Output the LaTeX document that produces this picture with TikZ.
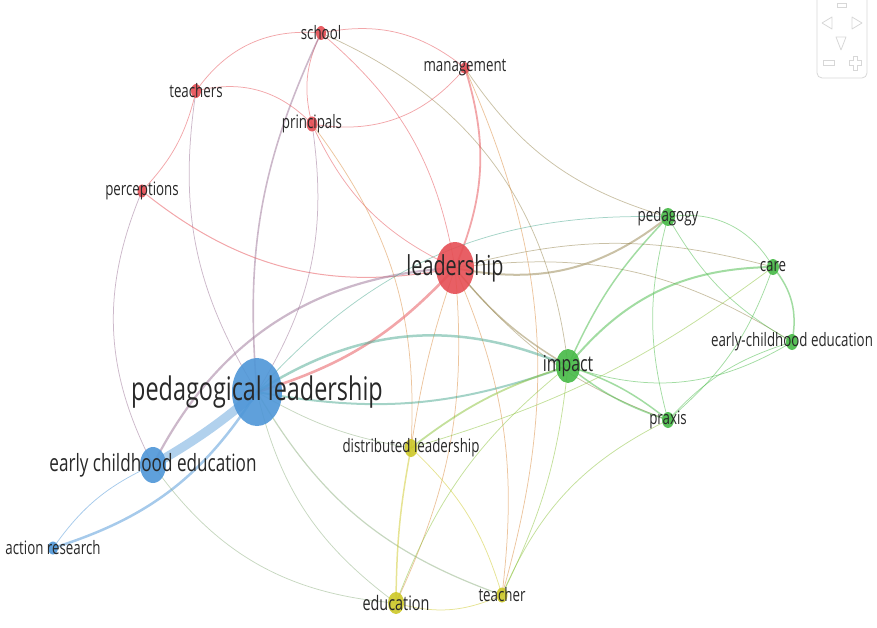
\documentclass[tikz,border=0pt]{standalone}
\usepackage{fontspec}
\setmainfont{Open Sans}[FakeStretch=0.72]
\usetikzlibrary{shapes.geometric}
\definecolor{cred}{RGB}{229,78,84}
\definecolor{cblue}{RGB}{78,150,215}
\definecolor{cgreen}{RGB}{70,185,70}
\definecolor{cyellow}{RGB}{205,200,40}
\definecolor{txt}{RGB}{40,40,40}
\definecolor{wgray}{RGB}{215,215,215}
\tikzset{
  e/.style={line width=0.75pt, opacity=0.5},
  kw/.style={ellipse, inner sep=0pt, draw=none, fill opacity=0.9},
  lab/.style={inner sep=0pt, text=txt},
  small/.style={lab, font=\fontsize{18.5}{19}\selectfont},
  wid/.style={draw=wgray, line width=0.8pt}
}
\begin{document}
\begin{tikzpicture}[x=1pt,y=1pt]
\useasboundingbox (0,0) rectangle (877,-628);
% keyword positions
\coordinate (school) at (321,-33);
\coordinate (management) at (465,-68);
\coordinate (teachers) at (196,-91);
\coordinate (principals) at (312,-124);
\coordinate (perceptions) at (142,-191);
\coordinate (leadership) at (455,-268);
\coordinate (pedl) at (257,-392);
\coordinate (ece) at (153,-465);
\coordinate (ar) at (53,-548);
\coordinate (dl) at (411,-448);
\coordinate (education) at (396,-603);
\coordinate (teacher) at (502,-595);
\coordinate (impact) at (568,-366);
\coordinate (praxis) at (668,-420);
\coordinate (ecetwo) at (792,-342);
\coordinate (pedagogy) at (668,-217);
\coordinate (care) at (773,-267);
% red cluster edges
\draw[e,cred] (school) to[bend left=25] (management);
\draw[e,cred] (teachers) to[bend left=30] (school);
\draw[e,cred] (school) to[bend right=20] (principals);
\draw[e,cred!50!cblue,line width=1.6pt] (school) to[bend right=15] (pedl);
\draw[e,cred] (school) to[bend left=20] (leadership);
\draw[e,cred!50!cgreen] (school) to[bend left=30] (impact);
\draw[e,cred] (teachers) to[bend left=30] (principals);
\draw[e,cred] (teachers) to[bend left=15] (perceptions);
\draw[e,cred!50!cblue] (teachers) to[bend right=20] (pedl);
\draw[e,cred,line width=1pt] (perceptions) to[bend right=25] (leadership);
\draw[e,cred!50!cblue] (perceptions) to[bend right=25] (ece);
\draw[e,cred] (principals) to[bend right=30] (management);
\draw[e,cred] (principals) to[bend right=20] (leadership);
\draw[e,cred!50!cblue] (principals) to[bend left=20] (pedl);
\draw[e,cred!50!cyellow] (principals) to[bend left=20] (dl);
\draw[e,cred,line width=1.8pt] (management) to[bend left=20] (leadership);
\draw[e,cred!50!cgreen] (management) to[bend right=20] (pedagogy);
\draw[e,cred!50!cyellow] (management) to[bend left=20] (teacher);
\draw[e,cred!50!cgreen,line width=2pt] (leadership) to[bend right=25] (pedagogy);
\draw[e,cred!50!cgreen] (leadership) to[bend left=15] (care);
\draw[e,cred!50!cgreen] (leadership) to[bend left=20] (ecetwo);
\draw[e,cred!50!cgreen,line width=1.5pt] (leadership) to[bend right=10] (impact);
\draw[e,cred!50!cgreen] (leadership) to[bend right=15] (praxis);
\draw[e,cred!50!cyellow] (leadership) to[bend right=5] (dl);
\draw[e,cred!50!cyellow] (leadership) to[bend left=15] (education);
\draw[e,cred!50!cyellow] (leadership) to[bend left=15] (teacher);
\draw[e,cred,line width=2.6pt] (leadership) to[bend left=15] (pedl);
\draw[e,cred!50!cblue,line width=2.2pt] (ece) to[bend left=30] (leadership);
% blue cluster edges
\draw[e,cblue!80!white,line width=9pt,opacity=0.55] (pedl) to[bend left=5] (ece);
\draw[e,cblue,line width=2.5pt] (pedl) to[bend left=20] (ar);
\draw[e,cblue] (ece) to[bend right=15] (ar);
\draw[e,cblue!50!cgreen,line width=2.5pt] (pedl) to[bend left=28] (impact);
\draw[e,cblue!50!cgreen,line width=2pt] (pedl) to[bend right=15] (impact);
\draw[e,cblue!50!cyellow] (pedl) to[bend right=10] (dl);
\draw[e,cblue!50!cyellow] (pedl) to[bend right=20] (education);
\draw[e,cblue!50!cyellow,line width=1.2pt] (pedl) to[bend right=20] (teacher);
\draw[e,cblue!50!cyellow] (ece) to[bend right=25] (education);
\draw[e,cblue!50!cgreen] (pedl) to[bend left=25] (pedagogy);
% green cluster edges
\draw[e,cgreen] (pedagogy) to[bend left=35] (care);
\draw[e,cgreen,line width=1.5pt] (pedagogy) to[bend right=10] (impact);
\draw[e,cgreen] (pedagogy) to[bend right=15] (praxis);
\draw[e,cgreen] (pedagogy) to[bend right=15] (ecetwo);
\draw[e,cgreen,line width=2pt] (care) to[bend right=25] (impact);
\draw[e,cgreen,line width=1.5pt] (care) to[bend left=25] (ecetwo);
\draw[e,cgreen] (care) to[bend left=15] (praxis);
\draw[e,cgreen,line width=1.5pt] (impact) to[bend left=10] (praxis);
\draw[e,cgreen,line width=1.5pt] (impact) to[bend right=10] (praxis);
\draw[e,cgreen] (impact) to[bend right=25] (ecetwo);
\draw[e,cgreen] (praxis) to[bend left=15] (ecetwo);
\draw[e,cgreen!50!cyellow] (praxis) to[bend right=20] (teacher);
\draw[e,cgreen!50!cyellow] (impact) to[bend left=10] (teacher);
\draw[e,cgreen!50!cyellow,line width=1.8pt] (impact) to[bend right=10] (dl);
\draw[e,cgreen!50!cyellow] (dl) to[bend right=10] (care);
% yellow cluster edges
\draw[e,cgreen!50!cyellow] (education) to[bend left=15] (impact);
\draw[e,cyellow,line width=1.5pt] (dl) to[bend right=5] (education);
\draw[e,cyellow] (dl) to[bend left=15] (teacher);
\draw[e,cyellow] (education) to[bend right=20] (teacher);
% keyword circles
\node[kw,fill=cred,minimum width=10pt,minimum height=14pt] (nschool) at (school) {};
\node[kw,fill=cred,minimum width=9pt,minimum height=12pt] (nmanagement) at (management) {};
\node[kw,fill=cred,minimum width=10pt,minimum height=14pt] (nteachers) at (teachers) {};
\node[kw,fill=cred,minimum width=11pt,minimum height=15pt] (nprincipals) at (principals) {};
\node[kw,fill=cred,minimum width=9pt,minimum height=13pt] (nperceptions) at (perceptions) {};
\node[kw,fill=cred,minimum width=38pt,minimum height=52pt] (nleadership) at (leadership) {};
\node[kw,fill=cblue,minimum width=50pt,minimum height=68pt] (npedl) at (pedl) {};
\node[kw,fill=cblue,minimum width=26pt,minimum height=36pt] (nece) at (ece) {};
\node[kw,fill=cblue,minimum width=10pt,minimum height=13pt] (nar) at (ar) {};
\node[kw,fill=cyellow,minimum width=13pt,minimum height=18pt] (ndl) at (dl) {};
\node[kw,fill=cyellow,minimum width=16pt,minimum height=22pt] (neducation) at (education) {};
\node[kw,fill=cyellow,minimum width=11pt,minimum height=15pt] (nteacher) at (teacher) {};
\node[kw,fill=cgreen,minimum width=24pt,minimum height=34pt] (nimpact) at (impact) {};
\node[kw,fill=cgreen,minimum width=12pt,minimum height=16pt] (npraxis) at (praxis) {};
\node[kw,fill=cgreen,minimum width=12pt,minimum height=16pt] (necetwo) at (ecetwo) {};
\node[kw,fill=cgreen,minimum width=14pt,minimum height=18pt] (npedagogy) at (pedagogy) {};
\node[kw,fill=cgreen,minimum width=12pt,minimum height=16pt] (ncare) at (care) {};
% labels
\node[small] (lschool) at (school) {school};
\node[small] (lmanagement) at (management) {management};
\node[small] (lteachers) at (teachers) {teachers};
\node[small] (lprincipals) at (principals) {principals};
\node[small] (lperceptions) at (perceptions) {perceptions};
\node[lab,font=\fontsize{27.5}{28}\selectfont] (lleadership) at (leadership) {leadership};
\node[lab,font=\fontsize{32.5}{33}\selectfont] (lpedl) at (pedl) {pedagogical leadership};
\node[lab,font=\fontsize{23.8}{24}\selectfont] (lece) at (ece) {early childhood education};
\node[small] (lar) at (ar) {action research};
\node[small] (ldl) at (dl) {distributed leadership};
\node[lab,font=\fontsize{20}{21}\selectfont] (leducation) at (education) {education};
\node[small] (lteacher) at (teacher) {teacher};
\node[lab,font=\fontsize{22}{23}\selectfont] (limpact) at (impact) {impact};
\node[small] (lpraxis) at (praxis) {praxis};
\node[small] (lecetwo) at (ecetwo) {early-childhood education};
\node[small] (lpedagogy) at (pedagogy) {pedagogy};
\node[small] (lcare) at (care) {care};
% zoom widget
\draw[wid,rounded corners=5pt] (817,2) -- (817,-78) -- (867,-78) -- (867,2);
\draw[wid] (837,-3) rectangle (846,-7);
\draw[wid,line join=round] (832,-17) -- (822,-23) -- (832,-29) -- cycle;
\draw[wid,line join=round] (852,-17) -- (862,-23) -- (852,-29) -- cycle;
\draw[wid,line join=round] (836,-37) -- (846,-37) -- (841,-50) -- cycle;
\draw[wid] (823,-60) rectangle (834,-65);
\draw[wid] (853,-56) -- (857,-56) -- (857,-60) -- (861,-60) -- (861,-65) -- (857,-65) -- (857,-70) -- (853,-70) -- (853,-65) -- (849,-65) -- (849,-60) -- (853,-60) -- cycle;
\end{tikzpicture}
\end{document}
